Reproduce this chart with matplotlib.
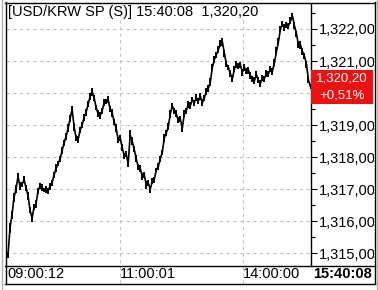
import numpy as np
import matplotlib
matplotlib.use("Agg")
import matplotlib.pyplot as plt
from matplotlib.lines import Line2D
from matplotlib.patches import Rectangle
from matplotlib.ticker import FuncFormatter, MultipleLocator
import matplotlib.transforms as mtransforms

# USD/KRW spot, one value every ~2.6 minutes from 09:00:12 to 15:40:08
prices = [
    1314.95, 1315.80, 1316.20, 1316.75, 1317.00, 1317.40, 1317.10, 1317.15, 1317.30, 1317.05,
    1316.80, 1316.35, 1316.10, 1316.45, 1316.55, 1316.95, 1317.10, 1317.05, 1316.98, 1317.00,
    1316.95, 1317.10, 1317.20, 1317.45, 1317.65, 1317.80, 1317.95, 1318.20, 1318.45, 1318.65,
    1318.90, 1319.20, 1319.50, 1318.95, 1318.60, 1318.55, 1318.85, 1319.00, 1319.25, 1319.40,
    1319.65, 1319.90, 1320.05, 1319.85, 1319.55, 1319.35, 1319.30, 1319.45, 1319.70, 1319.75,
    1319.80, 1319.50, 1319.38, 1319.10, 1318.90, 1318.55, 1318.60, 1318.30, 1318.05, 1318.10,
    1317.80, 1318.70, 1318.50, 1318.25, 1317.95, 1317.70, 1317.65, 1317.40, 1317.45, 1317.15,
    1317.20, 1317.00, 1317.25, 1317.30, 1317.60, 1317.70, 1317.95, 1318.15, 1318.60, 1318.75,
    1318.95, 1319.35, 1319.60, 1319.45, 1319.35, 1319.15, 1319.20, 1318.90, 1319.35, 1319.45,
    1319.65, 1319.60, 1319.80, 1319.70, 1319.85, 1319.75, 1319.90, 1319.70, 1319.85, 1320.05,
    1320.15, 1320.35, 1320.80, 1321.05, 1321.20, 1321.35, 1321.55, 1321.60, 1321.25, 1320.90,
    1320.80, 1320.60, 1320.45, 1320.75, 1320.90, 1320.85, 1320.88, 1320.65, 1320.80, 1320.70,
    1320.72, 1320.55, 1320.45, 1320.38, 1320.58, 1320.40, 1320.30, 1320.48, 1320.45, 1320.62,
    1320.60, 1320.75, 1320.68, 1320.95, 1321.30, 1321.60, 1322.00, 1322.15, 1322.05, 1322.12,
    1322.10, 1322.25, 1322.40, 1322.10, 1321.85, 1321.50, 1321.50, 1321.30, 1321.15, 1320.90,
    1320.40, 1320.20,
]
# high-low range traded inside each interval
spreads = [
    0.20, 0.30, 0.25, 0.30, 0.25, 0.20, 0.25, 0.18, 0.22, 0.20,
    0.25, 0.20, 0.22, 0.18, 0.25, 0.20, 0.18, 0.22, 0.15, 0.20,
    0.18, 0.22, 0.20, 0.18, 0.25, 0.15, 0.20, 0.22, 0.18, 0.20,
    0.25, 0.22, 0.20, 0.25, 0.18, 0.22, 0.20, 0.18, 0.22, 0.20,
    0.18, 0.22, 0.25, 0.20, 0.18, 0.22, 0.20, 0.18, 0.22, 0.15,
    0.20, 0.18, 0.22, 0.20, 0.25, 0.18, 0.20, 0.22, 0.18, 0.20,
    0.22, 0.30, 0.25, 0.20, 0.22, 0.18, 0.20, 0.22, 0.18, 0.25,
    0.20, 0.22, 0.18, 0.20, 0.15, 0.22, 0.20, 0.18, 0.25, 0.20,
    0.22, 0.25, 0.18, 0.20, 0.22, 0.18, 0.20, 0.25, 0.22, 0.18,
    0.20, 0.22, 0.18, 0.20, 0.22, 0.18, 0.20, 0.22, 0.18, 0.20,
    0.22, 0.25, 0.22, 0.20, 0.18, 0.22, 0.20, 0.25, 0.22, 0.20,
    0.18, 0.22, 0.20, 0.18, 0.22, 0.20, 0.18, 0.22, 0.20, 0.18,
    0.22, 0.20, 0.18, 0.22, 0.20, 0.18, 0.22, 0.20, 0.18, 0.22,
    0.20, 0.18, 0.22, 0.20, 0.25, 0.22, 0.20, 0.18, 0.22, 0.20,
    0.18, 0.22, 0.20, 0.22, 0.18, 0.20, 0.22, 0.20, 0.18, 0.22,
    0.20, 0.15,
]
time_labels = ["09:00:12", "11:00:01", "14:00:00"]
time_pos = [0, 56, 117.5]
title = "[USD/KRW SP (S)] 15:40:08  1,320,20"
last_price = 1320.20
last_change = "+0,51%"
last_time = "15:40:08"

W, H = 378, 290
fig = plt.figure(figsize=(W / 100, H / 100), dpi=100)
fig.patch.set_facecolor("white")

def fx(x):
    return x / W

def fy(y):
    return 1 - y / H

def fmt_price(v, pos=None):
    # the label hidden behind the last-price box is left out
    if abs(v - last_price) < 0.5:
        return ""
    return f"{v:,.2f}".replace(".", ",")

left, right, top, bottom = 6, 310.5, 3, 265.5
ax = fig.add_axes([fx(left), fy(bottom), fx(right - left), (bottom - top) / H])
ax.set_facecolor("white")

x = np.arange(len(prices))
p = np.array(prices)
s = np.array(spreads)
ax.plot(x, p, color="black", lw=1.2, solid_joinstyle="miter")
ax.vlines(x, p - s / 2, p + s / 2, color="black", lw=1.4)
ax.set_xlim(-1, 151)
ax.set_ylim(1314.625, 1322.81)

font = "Liberation Sans"
fs = 10.5

for sp in ["left", "top", "bottom"]:
    ax.spines[sp].set_visible(False)
ax.spines["right"].set_color("black")
ax.spines["right"].set_linewidth(1.0)

ax.yaxis.tick_right()
ax.yaxis.set_major_locator(MultipleLocator(1))
ax.yaxis.set_minor_locator(MultipleLocator(0.5))
ax.yaxis.set_major_formatter(FuncFormatter(fmt_price))
ax.tick_params(axis="y", which="major", length=4, width=0.8, pad=2, labelsize=fs)
ax.tick_params(axis="y", which="minor", length=3, width=0.8)
for lb in ax.get_yticklabels():
    lb.set_fontfamily(font)
ax.set_xticks([])
ax.grid(axis="y", which="major", color="#c4c4c4", ls=(0, (3, 3)), lw=0.8)

xt = mtransforms.blended_transform_factory(ax.transData, ax.transAxes)
for pos, lab in zip(time_pos, time_labels):
    if pos > 0:
        ax.axvline(pos, ymin=-(283 - 265.5) / (bottom - top), ymax=1, color="#c4c4c4",
                   ls=(0, (3, 3)), lw=0.8, clip_on=False, zorder=0)
    ax.text(pos - 0.2, -(274.5 - 265.5) / (bottom - top), lab, transform=xt,
            ha="left", va="center", fontsize=fs, family=font, color="black")

ax.text(0.008, (265.5 - 12) / (bottom - top), title, transform=ax.transAxes, ha="left", va="center",
        fontsize=fs, family=font, color="black")

# red box with the last price
trans = mtransforms.blended_transform_factory(fig.transFigure, ax.transData)
ax.add_patch(Rectangle((fx(311), last_price - 0.53), fx(373 - 311), 1.06, transform=trans,
                       facecolor="#ee1111", edgecolor="none", clip_on=False, zorder=5))
ax.text(fx(342), last_price + 0.27, f"{last_price:,.2f}".replace(".", ","), transform=trans, ha="center",
        va="center", fontsize=9.5, family=font, color="white", zorder=6, clip_on=False)
ax.text(fx(342), last_price - 0.27, last_change, transform=trans, ha="center", va="center",
        fontsize=9.5, family=font, color="white", zorder=6, clip_on=False)

fig.text(fx(342), fy(274.5), last_time, ha="center", va="center", fontsize=fs, family=font,
         weight="bold", color="black")

# clip right labels and draw frame
fig.add_artist(Rectangle((fx(374), 0), fx(4), 1, transform=fig.transFigure, facecolor="white",
                         edgecolor="none", zorder=20))
frame = [
    ((5.5, 5.5), (2, 284), "black"),
    ((5, 375), (2.5, 2.5), "black"),
    ((374.5, 374.5), (2, 284), "black"),
    ((5, 375), (283.5, 283.5), "black"),
    ((5, 375), (265.5, 265.5), "black"),
    ((1.5, 1.5), (0, 290), "#b0b0b0"),
    ((377, 377), (0, 290), "#b0b0b0"),
]
for xs, ys, c in frame:
    fig.add_artist(Line2D([fx(v) for v in xs], [fy(v) for v in ys], color=c, lw=1.0, zorder=21))

fig.savefig("out.png", dpi=100)
